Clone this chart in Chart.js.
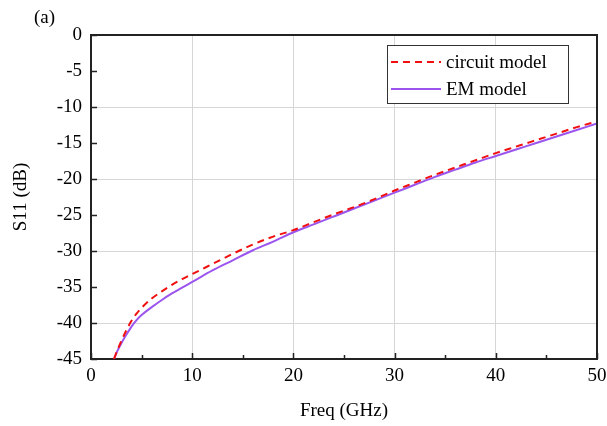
<!DOCTYPE html>
<html>
<head>
<meta charset="utf-8">
<script src="https://cdn.jsdelivr.net/npm/chart.js@4/dist/chart.umd.min.js"></script>
<style>
  html, body { margin: 0; padding: 0; background: #ffffff; }
  #wrap { width: 607px; height: 426px; position: relative; }
</style>
</head>
<body>
<div id="wrap"><canvas id="c" width="607" height="426"></canvas></div>
<script>
// ---- data ----
const circuitFreq = [2.27, 2.6, 3, 3.5, 4, 4.5, 5, 6, 7, 8, 9, 10, 12, 14, 16, 18, 20, 22, 24, 26, 28, 30, 32, 34, 36, 38, 40, 42, 44, 46, 48, 50];
const circuitS11  = [-45, -43.8, -42.5, -41.0, -39.7, -38.7, -37.9, -36.6, -35.6, -34.7, -33.9, -33.2, -31.8, -30.4, -29.1, -28.0, -27.1, -26.0, -24.9, -23.9, -22.8, -21.6, -20.5, -19.4, -18.4, -17.4, -16.4, -15.5, -14.6, -13.7, -12.8, -12.0];
const emFreq = [2.27, 2.6, 3, 3.5, 4, 4.5, 5, 6, 7, 8, 9, 10, 12, 14, 16, 18, 20, 22, 24, 26, 28, 30, 32, 34, 36, 38, 40, 42, 44, 46, 48, 50];
const emS11  = [-45, -43.9, -42.8, -41.6, -40.5, -39.6, -38.9, -37.8, -36.8, -35.9, -35.1, -34.3, -32.7, -31.3, -29.9, -28.7, -27.4, -26.3, -25.2, -24.1, -23.0, -21.9, -20.8, -19.7, -18.7, -17.7, -16.8, -15.9, -15.0, -14.1, -13.2, -12.3];
const seriesLabels = ['circuit model', 'EM model'];
const xTickValues = [0, 10, 20, 30, 40, 50];
const yTickValues = [0, -5, -10, -15, -20, -25, -30, -35, -40, -45];
const panelLabel = '(a)';
const xTitle = 'Freq (GHz)';
const yTitle = 'S11 (dB)';

const FONT = '"Liberation Serif", "Times New Roman", serif';
const toPts = (xs, ys) => xs.map((x, i) => ({ x: x, y: ys[i] }));

const decorations = {
  id: 'decorations',
  afterDraw(chart) {
    const ctx = chart.ctx;
    const a = chart.chartArea;
    const xs = chart.scales.x, ys = chart.scales.y;
    ctx.save();
    // top and right frame
    ctx.strokeStyle = '#222';
    ctx.lineWidth = 2;
    ctx.beginPath();
    ctx.moveTo(a.left, a.top); ctx.lineTo(a.right, a.top); ctx.lineTo(a.right, a.bottom);
    ctx.stroke();
    // inward ticks
    ctx.lineWidth = 1.5;
    ctx.beginPath();
    for (let v = 0; v <= 50; v += 5) {
      const px = Math.round(xs.getPixelForValue(v)) + 0.5;
      const len = v % 10 === 0 ? 6 : 4;
      ctx.moveTo(px, a.bottom); ctx.lineTo(px, a.bottom - len);
    }
    for (let v = 0; v >= -45; v -= 5) {
      const py = Math.round(ys.getPixelForValue(v)) + 0.5;
      ctx.moveTo(a.left, py); ctx.lineTo(a.left + 6, py);
    }
    ctx.stroke();
    // panel label
    ctx.fillStyle = '#000';
    ctx.font = '19px ' + FONT;
    ctx.textBaseline = 'middle';
    ctx.textAlign = 'left';
    ctx.fillText(panelLabel, 34, 18);
    // legend
    const bx = 387.5, by = 45.5, bw = 181, bh = 58;
    ctx.fillStyle = '#fff';
    ctx.fillRect(bx, by, bw, bh);
    ctx.strokeStyle = '#333';
    ctx.lineWidth = 1;
    ctx.strokeRect(bx, by, bw, bh);
    const rows = [62, 89];
    chart.data.datasets.forEach((ds, i) => {
      ctx.strokeStyle = ds.borderColor;
      ctx.lineWidth = ds.borderWidth;
      ctx.setLineDash(ds.borderDash || []);
      ctx.beginPath();
      ctx.moveTo(391, rows[i]); ctx.lineTo(441, rows[i]);
      ctx.stroke();
      ctx.setLineDash([]);
      ctx.fillStyle = '#000';
      ctx.fillText(ds.label, 446, rows[i] + 1);
    });
    ctx.restore();
  }
};

new Chart(document.getElementById('c'), {
  type: 'line',
  data: {
    datasets: [
      {
        label: seriesLabels[0],
        data: toPts(circuitFreq, circuitS11),
        borderColor: '#f01010',
        borderWidth: 2,
        borderDash: [7, 5],
        pointRadius: 0,
        cubicInterpolationMode: 'monotone',
        fill: false
      },
      {
        label: seriesLabels[1],
        data: toPts(emFreq, emS11),
        borderColor: '#9b55ee',
        borderWidth: 2,
        pointRadius: 0,
        cubicInterpolationMode: 'monotone',
        fill: false
      }
    ]
  },
  options: {
    responsive: false,
    animation: false,
    devicePixelRatio: 1,
    layout: { padding: { left: 0, top: 35, right: 10, bottom: 0 } },
    plugins: { legend: { display: false }, tooltip: { enabled: false } },
    scales: {
      x: {
        type: 'linear',
        min: 0, max: 50,
        afterFit: s => { s.height = 67; s.paddingRight = 0; s.paddingLeft = 0; },
        afterBuildTicks: s => { s.ticks = xTickValues.map(v => ({ value: v })); },
        ticks: { color: '#000', font: { family: FONT, size: 19 }, padding: 6, autoSkip: false, maxRotation: 0 },
        grid: {
          drawTicks: false,
          color: c => (c.tick && c.tick.value > 0 && c.tick.value < 50) ? '#d6d6d6' : 'rgba(0,0,0,0)',
          lineWidth: 1
        },
        border: { color: '#222', width: 2 },
        title: { display: true, text: xTitle, color: '#000', font: { family: FONT, size: 19 }, padding: { top: 0, bottom: 4 } }
      },
      y: {
        type: 'linear',
        min: -45, max: 0,
        afterFit: s => { s.width = 91; s.paddingTop = 0; s.paddingBottom = 0; },
        afterBuildTicks: s => { s.ticks = yTickValues.map(v => ({ value: v })); },
        ticks: { color: '#000', font: { family: FONT, size: 19 }, padding: 9, autoSkip: false },
        grid: {
          drawTicks: false,
          color: c => (c.tick && c.tick.value % 10 === 0 && c.tick.value < 0 && c.tick.value > -45) ? '#d6d6d6' : 'rgba(0,0,0,0)',
          lineWidth: 1
        },
        border: { color: '#222', width: 2 },
        title: { display: true, text: yTitle, color: '#000', font: { family: FONT, size: 19 }, padding: { top: 10, bottom: 0 } }
      }
    }
  },
  plugins: [decorations]
});
</script>
</body>
</html>
